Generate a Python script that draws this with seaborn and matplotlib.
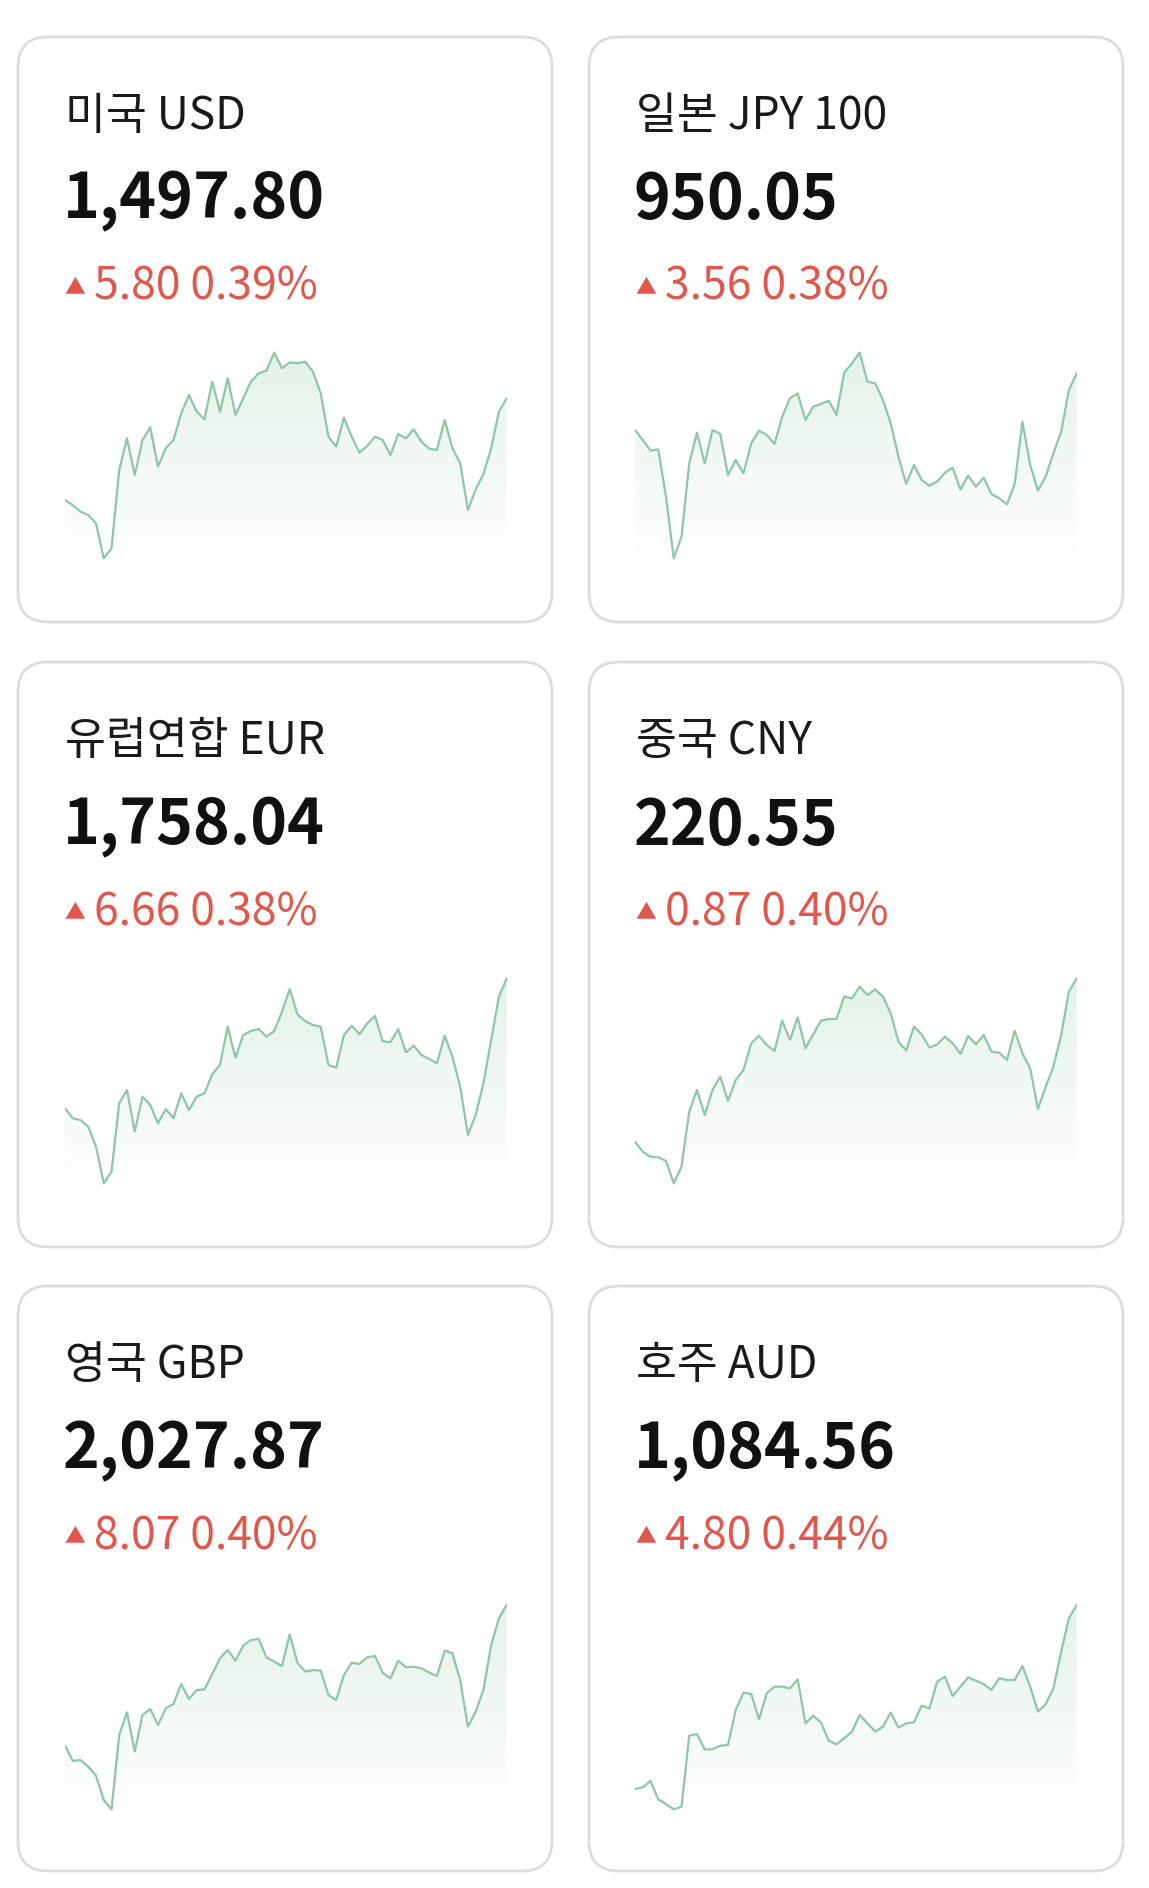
import matplotlib
matplotlib.use("Agg")
import matplotlib.pyplot as plt
import seaborn as sns
import numpy as np
import pandas as pd
from matplotlib.patches import FancyBboxPatch, Polygon
from matplotlib.colors import LinearSegmentedColormap

sns.set_theme(style="white")
plt.rcParams['font.family'] = ['Noto Sans CJK KR', 'DejaVu Sans']

# card texts
names = ["미국 USD", "일본 JPY 100", "유럽연합 EUR", "중국 CNY", "영국 GBP", "호주 AUD"]
rates = ["1,497.80", "950.05", "1,758.04", "220.55", "2,027.87", "1,084.56"]
changes = ["5.80 0.39%", "3.56 0.38%", "6.66 0.38%", "0.87 0.40%", "8.07 0.40%", "4.80 0.44%"]

# sparkline readings (screen depth: smaller = higher rate)
usd = [510,525,545,555,580,685,655,420,325,435,330,292,410,355,330,250,195,245,268,155,
       245,145,255,205,155,130,122,68,115,97,100,95,125,190,320,350,263,320,368,348,
       320,330,375,312,325,298,335,356,360,270,355,400,540,478,432,355,245,205]
jpy = [300,330,362,358,500,685,620,400,308,400,300,312,435,390,430,340,302,315,342,260,
       205,190,270,230,222,212,255,128,100,68,155,160,210,280,380,462,405,450,467,455,
       428,413,478,437,470,443,492,505,523,462,275,405,482,440,370,305,180,130]
eur = [460,490,495,515,575,685,650,445,405,530,425,450,505,462,490,415,465,425,415,358,
       330,215,308,240,228,222,245,228,170,102,178,198,210,215,330,338,240,212,238,205,
       183,258,262,222,292,272,300,312,325,242,305,395,540,480,385,255,125,70]
cny = [560,590,605,607,618,685,635,470,405,480,405,365,438,375,345,265,242,270,288,197,
       255,187,280,238,197,192,192,125,130,95,120,103,125,175,260,287,215,238,278,268,
       245,265,297,243,268,240,290,293,315,228,295,340,462,395,335,240,110,70]
gbp = [497,543,540,560,587,660,688,465,397,515,405,387,435,385,372,312,357,330,328,282,
       235,210,242,197,180,177,232,245,258,163,248,275,270,272,345,360,285,248,252,232,
       228,278,295,242,262,260,265,278,288,212,220,300,440,395,330,195,115,75]
aud = [627,622,603,658,672,688,680,467,462,508,508,497,495,390,338,342,418,340,320,320,
       325,298,430,407,427,482,493,475,455,405,430,455,440,398,443,430,427,377,385,305,
       290,348,320,292,302,312,330,295,300,300,258,320,395,373,325,215,115,75]
series = [usd, jpy, eur, cny, gbp, aud]

W, H = 1149, 1888
fig = plt.figure(figsize=(W / 100, H / 100), dpi=100, facecolor="white")
bg = fig.add_axes([0, 0, 1, 1])
bg.set_xlim(0, W)
bg.set_ylim(H, 0)
bg.axis("off")

red = "#e2574c"
line_c = "#8fc7a6"
grad = LinearSegmentedColormap.from_list("g", ["#ffffff", "#e3f2e8"])

card_x = [18, 589]
card_y = [37, 662, 1286]
cw, ch = 534, 585

for i, (name, rate, chg, vals) in enumerate(zip(names, rates, changes, series)):
    r, c = divmod(i, 2)
    x0, y0 = card_x[c], card_y[r]
    bg.add_patch(FancyBboxPatch((x0, y0), cw, ch, boxstyle="round,pad=0,rounding_size=30",
                                facecolor="white", edgecolor="#dcdcdc", linewidth=2))
    bg.text(x0 + 47, y0 + 79, name, fontsize=32, fontweight="medium", va="center", color="#1a1a1a")
    bg.text(x0 + 45, y0 + 164, rate, fontsize=45, fontweight="heavy", va="center", color="#111111")
    bg.text(x0 + 46, y0 + 250, "▲", fontsize=15, va="center", color=red)
    bg.text(x0 + 76, y0 + 250, chg, fontsize=32, fontweight="medium", va="center", color=red)

    # sparkline axes: zoom crop frame (orig px)
    cx, cy = 50 + 570 * c, 330 + 625 * r
    left = cx + 45 / 3
    right = cx + 1370 / 3
    ax = fig.add_axes([left / W, 1 - (cy + 240) / H, (right - left) / W, 240 / H])
    ax.axis("off")
    df = pd.DataFrame({"t": np.arange(len(vals)), "v": vals})
    verts = list(zip(df["t"], df["v"])) + [(len(vals) - 1, 700), (0, 700)]
    poly = Polygon(verts, closed=True, facecolor="none", edgecolor="none")
    ax.add_patch(poly)
    img = ax.imshow(np.linspace(1, 0, 100).reshape(-1, 1), cmap=grad, aspect="auto",
                    extent=[0, len(vals) - 1, 700, 60], zorder=1)
    img.set_clip_path(poly)
    sns.lineplot(data=df, x="t", y="v", ax=ax, color=line_c, linewidth=1.6, zorder=2)
    ax.set_xlim(0, len(vals) - 1)
    ax.set_ylim(720, 0)

fig.savefig("out.png", dpi=100, facecolor="white")
